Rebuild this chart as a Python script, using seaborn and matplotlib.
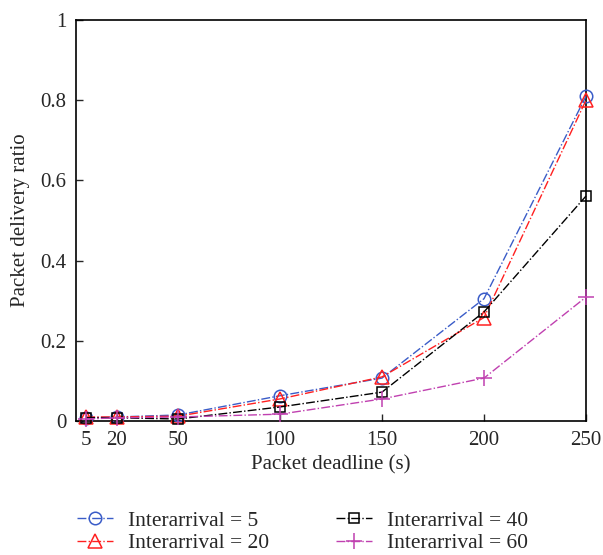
import matplotlib
matplotlib.use("Agg")
import matplotlib.pyplot as plt
import seaborn as sns
import pandas as pd

deadlines = [5, 20, 50, 100, 150, 200, 250]
ia5 = [0.008, 0.010, 0.015, 0.063, 0.107, 0.305, 0.810]
ia20 = [0.010, 0.010, 0.012, 0.055, 0.110, 0.258, 0.800]
ia40 = [0.008, 0.008, 0.005, 0.035, 0.072, 0.272, 0.561]
ia60 = [0.005, 0.008, 0.010, 0.017, 0.055, 0.107, 0.309]
labels = ["Interarrival = 5", "Interarrival = 20", "Interarrival = 40", "Interarrival = 60"]
xticks = [5, 20, 50, 100, 150, 200, 250]
yticks = [0, 0.2, 0.4, 0.6, 0.8, 1.0]
ytick_labels = ["0", "0.2", "0.4", "0.6", "0.8", "1"]

sns.set_theme(style="ticks")
plt.rcParams["font.family"] = ["Liberation Serif", "DejaVu Serif"]

rows = []
for lab, vals in zip(labels, [ia5, ia20, ia40, ia60]):
    for d, v in zip(deadlines, vals):
        rows.append({"deadline": d, "ratio": v, "series": lab})
df = pd.DataFrame(rows)

colors = ["#3a5cc8", "#ff2020", "#000000", "#c040b0"]
markers = ["o", "^", "s", "P"]
fig = plt.figure(figsize=(6.03, 5.55), dpi=100)
ax = fig.add_axes([76/603, 1-421/555, 510/603, 401/555])

mk = {"o": dict(marker="o", mfc="none", markersize=9),
      "^": dict(marker="^", mfc="none", markersize=10),
      "s": dict(marker="s", mfc="none", markersize=7.5),
      "P": dict(marker="+", markersize=11)}
for lab, c, m in zip(labels, colors, markers):
    sub = df[df["series"] == lab]
    sns.lineplot(data=sub, x="deadline", y="ratio", ax=ax, color=c, label=lab,
                 linestyle="-.", linewidth=1.0, clip_on=False,
                 markeredgewidth=1.1, markeredgecolor=c, **mk[m])

ax.set_xlim(0, 250)
ax.set_ylim(0, 1)
ax.set_xticks(xticks)
ax.set_yticks(yticks)
ax.set_yticklabels(ytick_labels)
ax.tick_params(direction="in", length=5, labelsize=15, width=1, pad=7)
for s in ax.spines.values():
    s.set_visible(True)
    s.set_linewidth(1.2)
    s.set_color("black")
    s.set_zorder(1)
ax.set_xlabel("Packet deadline (s)", fontsize=15, labelpad=4)
ax.set_ylabel("Packet delivery ratio", fontsize=15, labelpad=7)
handles, labs = ax.get_legend_handles_labels()
ax.get_legend().remove()
fig.legend(handles, labs, loc="upper left", bbox_to_anchor=(66/603, 1-500/555),
           bbox_transform=fig.transFigure, ncol=2, frameon=False, borderpad=0,
           fontsize=15.5, columnspacing=3.1, handlelength=1.67, handletextpad=0.7,
           labelspacing=0.12)
fig.savefig("out.png", dpi=100)
